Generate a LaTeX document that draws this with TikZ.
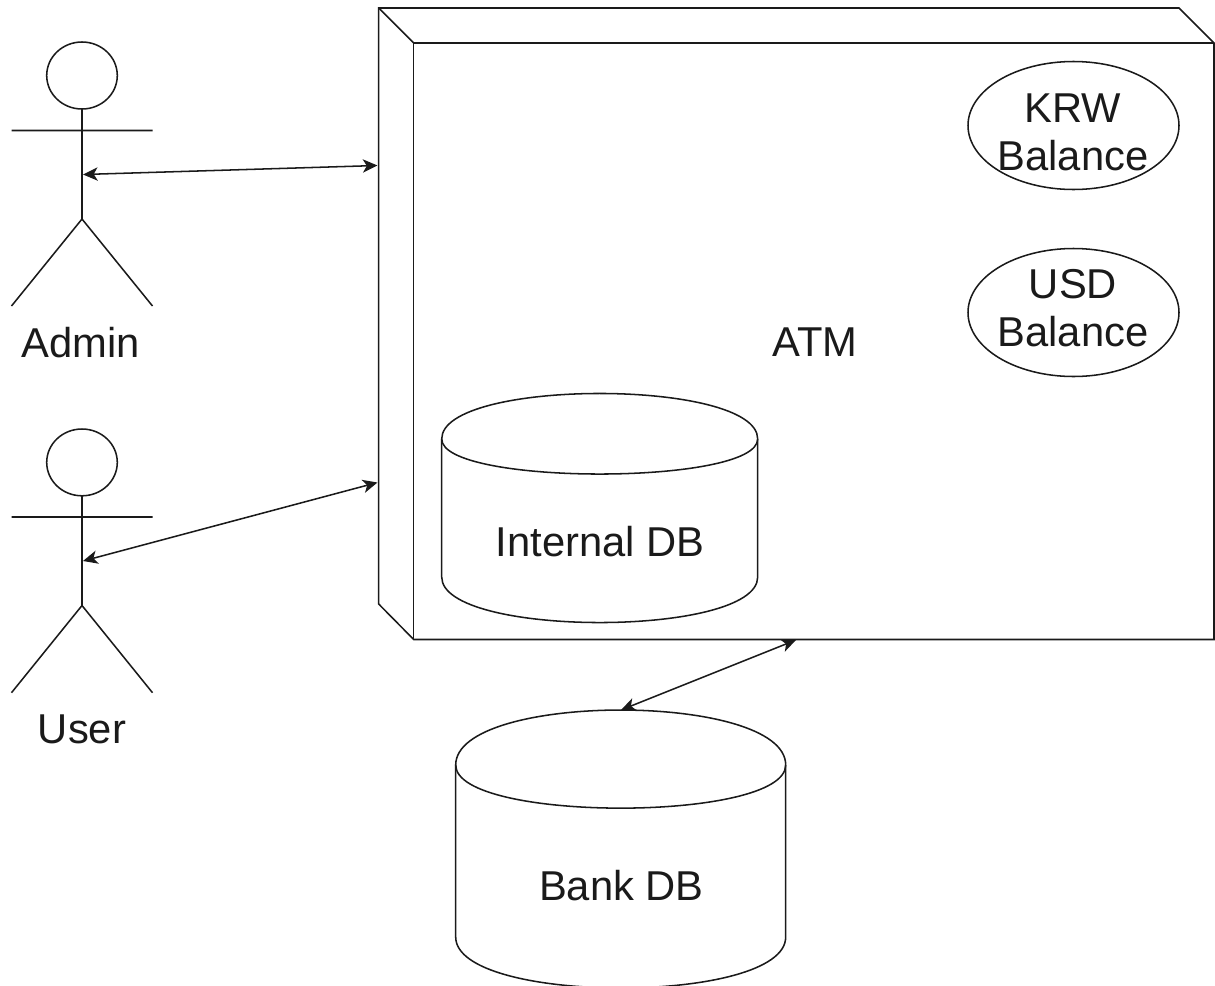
\documentclass[tikz,border=0pt]{standalone}
\usepackage{fontspec}
\setmainfont{Liberation Sans}
\usetikzlibrary{arrows.meta}
\definecolor{ink}{HTML}{1A1A1A}
\tikzset{
 every path/.style={line width=1.15pt},
 lbl/.style={font=\fontsize{31.3}{36}\selectfont,align=center,inner sep=0pt,text=ink},
 conn/.style={{Stealth[length=11pt,width=10pt,inset=3pt]}-{Stealth[length=11pt,width=10pt,inset=3pt]},line width=1.15pt},
}
\begin{document}
\begin{tikzpicture}[x=0.75pt,y=-0.75pt,color=ink]
\useasboundingbox (0,0) rectangle (1215,986);
% ATM cube
\coordinate (c1) at (378.7,8);
\coordinate (c2) at (1179,8);
\coordinate (c3) at (1214,43);
\coordinate (c4) at (413.7,43);
\coordinate (c5) at (413.7,639.5);
\coordinate (c6) at (1214,639.5);
\coordinate (c7) at (378.7,604);
\draw (c1) -- (c2) -- (c3) -- (c6) -- (c5) -- (c7) -- cycle;
\draw (c1) -- (c4) -- (c3);
\draw (c4) -- (c5);
\node[lbl] (atm) at (815,342) {ATM};
\coordinate (atmA) at (377.5,165.5);
\coordinate (atmU) at (377.5,482.5);
\coordinate (atmB) at (796,640);
% ellipses
\draw (1073.5,125.5) ellipse [x radius=105.5,y radius=64];
\node[lbl] (krw) at (1073,132) {KRW\\Balance};
\draw (1073.5,312.5) ellipse [x radius=105.5,y radius=64];
\node[lbl] (usd) at (1073,308) {USD\\Balance};
% Internal DB
\draw (441.7,439) .. controls (441.7,378.3) and (757.7,378.3) .. (757.7,439) -- (757.7,577) .. controls (757.7,637.7) and (441.7,637.7) .. (441.7,577) -- cycle;
\draw (441.7,439) .. controls (441.7,485.7) and (757.7,485.7) .. (757.7,439);
\node[lbl] (idb) at (600,542) {Internal DB};
% Bank DB
\draw (455.7,765) .. controls (455.7,691.7) and (785.7,691.7) .. (785.7,765) -- (785.7,937) .. controls (785.7,1005) and (455.7,1005) .. (455.7,937) -- cycle;
\draw (455.7,765) .. controls (455.7,822.5) and (785.7,822.5) .. (785.7,765);
\node[lbl] (bdb) at (621.5,886) {Bank DB};
\coordinate (bdbT) at (621,710);
% Admin
\draw (82,75.5) ellipse [x radius=35.3,y radius=33.5];
\draw (82,109) -- (82,219) (11.5,130.5) -- (152.5,130.5) (11.5,306) -- (82,219) -- (152.5,306);
\node[lbl] (admin) at (81,343) {Admin};
\coordinate (adminP) at (83,174.5);
% User
\draw (82,462.4) ellipse [x radius=35.3,y radius=33.4];
\draw (82,495.8) -- (82,605.5) (11.5,517) -- (152.5,517) (11.5,692.7) -- (82,605.5) -- (152.5,692.7);
\node[lbl] (user) at (82,729) {User};
\coordinate (userP) at (83,561);
% connectors
\draw[conn] (adminP) -- (atmA);
\draw[conn] (userP) -- (atmU);
\draw[conn] (bdbT) -- (atmB);
\end{tikzpicture}
\end{document}
